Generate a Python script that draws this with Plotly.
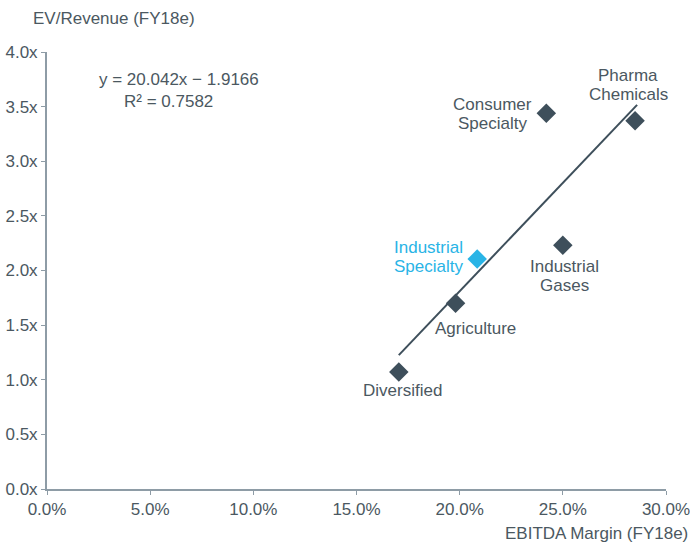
import numpy as np
import plotly.graph_objects as go

# Data
sectors = ["Diversified", "Agriculture", "Industrial Specialty", "Consumer Specialty", "Industrial Gases", "Pharma Chemicals"]
label_lines = [["Diversified"], ["Agriculture"], ["Industrial", "Specialty"],
               ["Consumer", "Specialty"], ["Industrial", "Gases"], ["Pharma", "Chemicals"]]
ebitda_margin = [17.05, 19.8, 20.85, 24.2, 25.0, 28.5]
ev_revenue = [1.07, 1.70, 2.105, 3.44, 2.23, 3.37]
highlight = [False, False, True, False, False, False]
trend_x_span = [17.05, 28.6]
x_ticks = [0, 5, 10, 15, 20, 25, 30]
y_ticks = [0, 0.5, 1.0, 1.5, 2.0, 2.5, 3.0, 3.5, 4.0]
equation_text = "y = 20.042x \u2212 1.9166"
r2_text = "R\u00b2 = 0.7582"

DARK = "#3e4f5b"
BLUE = "#29b4e6"
TEXT = "#4b5861"
AXIS = "#8e9ca6"
FONT = "Liberation Sans, Arial, sans-serif"
LINE_H = 19

slope, intercept = np.polyfit(ebitda_margin, ev_revenue, 1)
trend_y = [slope * v + intercept for v in trend_x_span]

fig = go.Figure()
fig.add_trace(go.Scatter(x=trend_x_span, y=trend_y, mode="lines",
                         line=dict(color=DARK, width=2), hoverinfo="skip", showlegend=False))
fig.add_trace(go.Scatter(
    x=ebitda_margin, y=ev_revenue, mode="markers",
    marker=dict(symbol="diamond", size=15, color=[BLUE if h else DARK for h in highlight],
                line=dict(width=0)),
    showlegend=False))

# label placement styles: x offset of label centre, y offset of first line centre (px)
offsets = {
    "Diversified": (4, -18),
    "Agriculture": (20, -25),
    "Industrial Specialty": (-49, 12),
    "Consumer Specialty": (-54, 9),
    "Industrial Gases": (2, -21),
    "Pharma Chemicals": (-7, 45),
}
for s, lines, xv, yv, h in zip(sectors, label_lines, ebitda_margin, ev_revenue, highlight):
    dx, dy = offsets[s]
    for i, line in enumerate(lines):
        fig.add_annotation(x=xv, y=yv, text=line, showarrow=False,
                           xanchor="center", yanchor="middle", xshift=dx, yshift=dy - i * LINE_H,
                           font=dict(family=FONT, size=17, color=BLUE if h else TEXT))

fig.add_annotation(xref="paper", yref="paper", x=0, y=1, xshift=-16, yshift=34,
                   xanchor="left", yanchor="middle", text="EV/Revenue (FY18e)", showarrow=False,
                   font=dict(family=FONT, size=17, color=TEXT))
fig.add_annotation(xref="paper", yref="paper", x=1, y=0, xshift=24, yshift=-44,
                   xanchor="right", yanchor="middle", text="EBITDA Margin (FY18e)", showarrow=False,
                   font=dict(family=FONT, size=17, color=TEXT))
fig.add_annotation(xref="paper", yref="paper", x=0, y=1, xshift=132, yshift=-27,
                   xanchor="center", yanchor="middle", text=equation_text, showarrow=False,
                   font=dict(family=FONT, size=17, color=TEXT))
fig.add_annotation(xref="paper", yref="paper", x=0, y=1, xshift=121, yshift=-49,
                   xanchor="center", yanchor="middle", text=r2_text, showarrow=False,
                   font=dict(family=FONT, size=17, color=TEXT))

fig.update_xaxes(range=[0, 30], tickvals=x_ticks, ticktext=[f"{v:.1f}%" for v in x_ticks],
                 showgrid=False, zeroline=False, showline=True, linecolor=AXIS, linewidth=2,
                 ticks="outside", ticklen=4, tickcolor=AXIS, tickwidth=1, automargin=False,
                 ticklabeloverflow="allow",
                 tickfont=dict(family=FONT, size=17, color=TEXT))
fig.update_yaxes(range=[0, 4], tickvals=y_ticks, ticktext=[f"{v:.1f}x" for v in y_ticks],
                 showgrid=False, zeroline=False, showline=True, linecolor=AXIS, linewidth=2,
                 ticks="outside", ticklen=4, tickcolor=AXIS, tickwidth=1, automargin=False,
                 ticklabeloverflow="allow",
                 tickfont=dict(family=FONT, size=17, color=TEXT))

fig.update_layout(width=690, height=542, margin=dict(l=47, r=24, t=52, b=53),
                  plot_bgcolor="white", paper_bgcolor="white")

fig.write_html("out.html", config={"displayModeBar": False},
               post_script="document.body.style.margin='0';document.body.style.overflow='hidden';")
